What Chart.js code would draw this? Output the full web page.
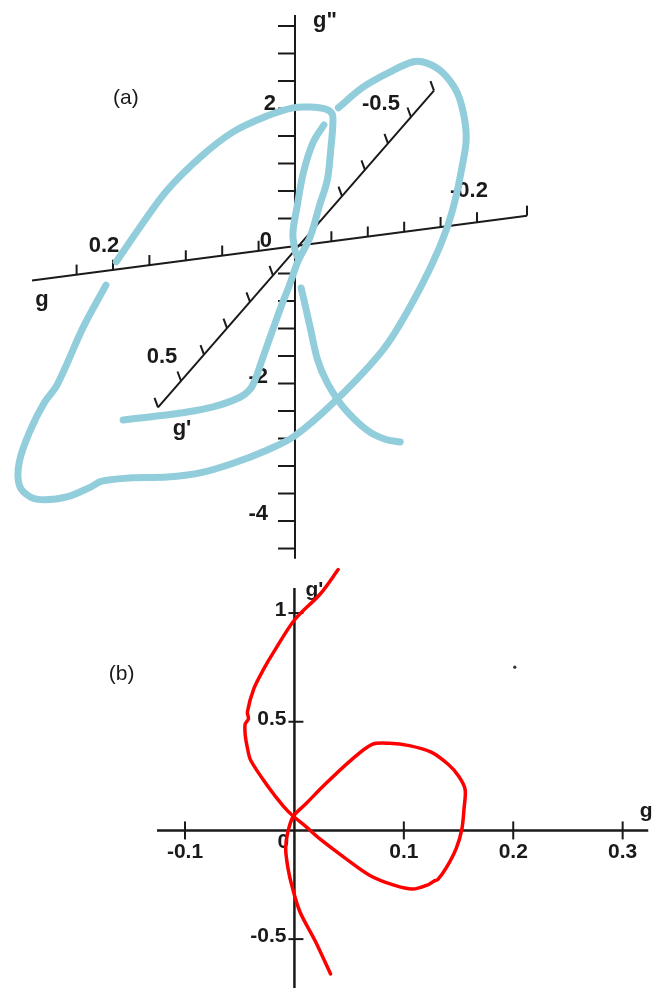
<!DOCTYPE html>
<html>
<head>
<meta charset="utf-8">
<script src="https://cdn.jsdelivr.net/npm/chart.js@4/dist/chart.umd.min.js"></script>
<style>
  html, body { margin: 0; padding: 0; background: #ffffff; }
  canvas { display: block; }
</style>
</head>
<body>
<canvas id="phase3d" width="659" height="560"></canvas>
<canvas id="phase2d" width="659" height="428"></canvas>
<script>
// ---------------- (a) trajectory in (g, g', g'') space ----------------
// Points on the drawing plane (h, v), both in g''-units; null = hidden stretch.
const trajH = [
  -2.50, -2.15, -1.67, -1.19, -0.80, -0.65, -0.57, -0.48, -0.36, -0.22, -0.07, 0.04, 0.22, 0.36, 0.47, 0.52, 0.55, 0.54, 0.45, 0.22, -0.03, -0.41, -0.90, -1.38, -1.86, -2.25, -2.60,
  null,
  -2.75, -3.08, -3.46, -3.64, -3.85, -4.01, -4.01, -3.85, -3.64, -3.32, -2.98, -2.81, -2.36, -1.86, -1.38, -0.90, -0.41, 0.00, 0.61, 1.28, 1.67, 2.01, 2.21, 2.33, 2.43, 2.49, 2.46, 2.36, 2.15, 1.92, 1.72, 1.38, 0.99, 0.63,
  null,
  0.42, 0.26, 0.12, 0.03, -0.03, 0.00, 0.03,
  null,
  0.09, 0.22, 0.33, 0.47, 0.70, 1.05, 1.31, 1.53
];
const trajV = [
  -2.53, -2.49, -2.43, -2.34, -2.20, -2.08, -1.92, -1.66, -1.32, -0.93, -0.54, -0.23, 0.13, 0.60, 0.96, 1.40, 1.76, 1.92, 1.99, 2.02, 2.01, 1.89, 1.66, 1.29, 0.81, 0.28, -0.23,
  null,
  -0.57, -1.18, -2.02, -2.27, -2.68, -3.14, -3.48, -3.65, -3.69, -3.65, -3.51, -3.42, -3.37, -3.36, -3.30, -3.16, -2.97, -2.76, -2.23, -1.51, -0.89, -0.23, 0.26, 0.67, 1.15, 1.54, 1.88, 2.23, 2.52, 2.66, 2.68, 2.53, 2.31, 2.01,
  null,
  1.76, 1.50, 1.06, 0.57, 0.19, -0.06, -0.15,
  null,
  -0.61, -1.18, -1.66, -1.99, -2.34, -2.68, -2.81, -2.85
];

// axis extents and ticks of (a)
const gRange = [-0.255, 0.289];
const gTicks = [-0.2, -0.16, -0.12, -0.08, -0.04, 0.04, 0.08, 0.12, 0.16, 0.2, 0.24, -0.255];
const gLabelValues = [0.2, -0.2];
const gpRange = [-0.6, 0.6];
const gpTicks = [-0.6, -0.5, -0.4, -0.3, -0.2, -0.1, 0.1, 0.2, 0.3, 0.4, 0.5, 0.6];
const gpLabelValues = [0.5, -0.5];
const gppRange = [-4.55, 3.36];
const gppTicks = [-4.4, -4.0, -3.6, -3.2, -2.8, -2.4, -2.0, -1.6, -1.2, -0.8, -0.4, 0.4, 0.8, 1.2, 1.6, 2.0, 2.4, 2.8, 3.2];
const gppLabelValues = [2, -2, -4];

// ---------------- (b) phase portrait g' versus g ----------------
const gValues = [
  0.040, 0.024, 0.000, -0.019, -0.028, -0.037, -0.043, -0.042, -0.045, -0.045, -0.043, -0.040, -0.024, -0.010, -0.001,
  0.010, 0.023, 0.046, 0.069, 0.091, 0.108, 0.122, 0.128, 0.131, 0.139, 0.148, 0.153, 0.155, 0.156, 0.150, 0.141, 0.125, 0.105, 0.087, 0.071,
  0.051, 0.028, 0.010, -0.001, -0.006, -0.008, -0.006, -0.002, 0.005, 0.019, 0.033
];
const gPrimeValues = [
  1.200, 1.090, 0.968, 0.820, 0.743, 0.653, 0.545, 0.514, 0.490, 0.440, 0.380, 0.323, 0.201, 0.111, 0.065,
  0.020, -0.038, -0.126, -0.207, -0.252, -0.270, -0.250, -0.232, -0.226, -0.170, -0.081, 0.005, 0.099, 0.189, 0.250, 0.302, 0.360, 0.390, 0.401, 0.396,
  0.320, 0.212, 0.120, 0.065, -0.007, -0.081, -0.171, -0.261, -0.374, -0.509, -0.660
];
const dotG = [0.2014];
const dotGPrime = [0.751];
const xTickValues = [-0.1, 0.1, 0.2, 0.3];
const yTickValues = [1, 0.5, -0.5];
const bAxisX = [-0.1256, 0.3234];
const bAxisY = [-0.75, 1.115];

// ---------------- shared styles ----------------
const BLUE = '#92cddc';
const RED = '#ff0000';
const INK = '#1a1a1a';
const BOLD = 'bold 22px "Liberation Sans", Arial, sans-serif';
const BOLD_B = 'bold 21px "Liberation Sans", Arial, sans-serif';
const PLAIN = '21px "Liberation Sans", Arial, sans-serif';

// oblique projection of the three axes onto the plane
const G_DIR = { h: -13.236, v: -1.731 };
const GP_DIR = { h: -3.345, v: -3.840 };
const GP_ORIGIN = { h: 0.0145, v: -0.0436 };
const onG = t => ({ h: t * G_DIR.h, v: t * G_DIR.v });
const onGp = t => ({ h: GP_ORIGIN.h + t * GP_DIR.h, v: GP_ORIGIN.v + t * GP_DIR.v });
const onGpp = t => ({ h: 0, v: t });

function splitSegments(xs, ys) {
  const out = [];
  let cur = [];
  xs.forEach((x, i) => {
    if (x === null || ys[i] === null) {
      if (cur.length) out.push(cur);
      cur = [];
    } else {
      cur.push({ x: x, y: ys[i] });
    }
  });
  if (cur.length) out.push(cur);
  return out;
}

function segLine(ctx, a, b) {
  ctx.beginPath();
  ctx.moveTo(a[0], a[1]);
  ctx.lineTo(b[0], b[1]);
  ctx.stroke();
}

function fmt(v) {
  return (v < 0 ? '-' : '') + String(Math.abs(v));
}

const axesA = {
  id: 'axesA',
  beforeDatasetsDraw(chart) {
    const { ctx, scales: { x, y } } = chart;
    const P = p => [x.getPixelForValue(p.h), y.getPixelForValue(p.v)];
    ctx.save();
    ctx.strokeStyle = INK;
    ctx.lineWidth = 2;
    ctx.lineCap = 'butt';

    // g'' axis (vertical) with ticks to the left
    segLine(ctx, P(onGpp(gppRange[0])), P(onGpp(gppRange[1])));
    gppTicks.forEach(t => {
      const p = P(onGpp(t));
      segLine(ctx, [p[0] - 17, p[1]], [p[0], p[1]]);
    });

    // g axis (shallow slant) with upward ticks
    segLine(ctx, P(onG(gRange[0])), P(onG(gRange[1])));
    gTicks.forEach(t => {
      const p = P(onG(t));
      segLine(ctx, [p[0], p[1] - 10], [p[0], p[1]]);
    });

    // g' axis (diagonal) with short ticks
    segLine(ctx, P(onGp(gpRange[0])), P(onGp(gpRange[1])));
    gpTicks.forEach(t => {
      const p = P(onGp(t));
      segLine(ctx, [p[0] - 3.5, p[1] - 9.5], [p[0], p[1]]);
    });

    // labels
    ctx.fillStyle = INK;
    ctx.font = BOLD;
    ctx.textBaseline = 'middle';
    ctx.textAlign = 'right';
    gppLabelValues.forEach(t => {
      const p = P(onGpp(t));
      ctx.fillText(fmt(t), p[0] + (t < 0 ? -27 : -19), p[1] + (t < 0 ? -7 : -5));
    });
    ctx.textAlign = 'center';
    gLabelValues.forEach(t => {
      const p = P(onG(t));
      ctx.fillText(fmt(t), p[0] + (t < 0 ? -8 : -9), p[1] + (t < 0 ? -31 : -24));
    });
    gpLabelValues.forEach(t => {
      const p = P(onGp(t));
      ctx.fillText(fmt(t), p[0] + (t < 0 ? -30 : -19), p[1] + (t < 0 ? -13 : -24));
    });
    const o = P(onG(0));
    ctx.fillText('0', o[0] - 29, o[1] - 5);

    // axis names
    const gEnd = P(onG(gRange[1]));
    ctx.fillText('g', gEnd[0] + 10, gEnd[1] + 20);
    const gpEnd = P(onGp(gpRange[1]));
    ctx.fillText("g'", gpEnd[0] + 24, gpEnd[1] + 22);
    const gppEnd = P(onGpp(gppRange[1]));
    ctx.fillText('g"', gppEnd[0] + 30, gppEnd[1] + 6);

    ctx.font = PLAIN;
    ctx.fillText('(a)', x.getPixelForValue(-2.46), y.getPixelForValue(2.15));
    ctx.restore();
  }
};

const axesB = {
  id: 'axesB',
  beforeDatasetsDraw(chart) {
    const { ctx, scales: { x, y } } = chart;
    const x0 = x.getPixelForValue(0);
    const y0 = y.getPixelForValue(0);
    ctx.save();
    ctx.strokeStyle = INK;
    ctx.lineWidth = 2.5;
    segLine(ctx, [x.getPixelForValue(bAxisX[0]), y0], [x.getPixelForValue(bAxisX[1]), y0]);
    segLine(ctx, [x0, y.getPixelForValue(bAxisY[1])], [x0, y.getPixelForValue(bAxisY[0])]);
    ctx.lineWidth = 2;
    xTickValues.forEach(t => {
      const px = x.getPixelForValue(t);
      segLine(ctx, [px, y0 - 9], [px, y0 + 9]);
    });
    yTickValues.forEach(t => {
      const py = y.getPixelForValue(t);
      segLine(ctx, [x0 - 6, py], [x0 + 9, py]);
    });

    ctx.fillStyle = INK;
    ctx.font = BOLD_B;
    ctx.textBaseline = 'middle';
    ctx.textAlign = 'center';
    xTickValues.forEach(t => {
      ctx.fillText(fmt(t), x.getPixelForValue(t), y0 + 22);
    });
    ctx.fillText('0', x0 - 11, y0 + 12);
    ctx.textAlign = 'right';
    yTickValues.forEach(t => {
      ctx.fillText(fmt(t), x0 - 8, y.getPixelForValue(t) - 3);
    });
    ctx.textAlign = 'center';
    ctx.fillText('g', x.getPixelForValue(bAxisX[1]) - 2, y0 - 19);
    ctx.fillText("g'", x0 + 20, y.getPixelForValue(bAxisY[1]) + 2);

    ctx.font = PLAIN;
    ctx.fillText('(b)', x.getPixelForValue(-0.158), y.getPixelForValue(0.72));
    ctx.restore();
  }
};

const baseOptions = (xr, yr) => ({
  responsive: false,
  animation: false,
  devicePixelRatio: 1,
  events: [],
  layout: { padding: 0 },
  scales: {
    x: { type: 'linear', display: false, min: xr[0], max: xr[1] },
    y: { type: 'linear', display: false, min: yr[0], max: yr[1] }
  },
  plugins: { legend: { display: false }, tooltip: { enabled: false } }
});

new Chart(document.getElementById('phase3d'), {
  type: 'scatter',
  data: {
    datasets: splitSegments(trajH, trajV).map(seg => ({
      data: seg,
      showLine: true,
      borderColor: BLUE,
      borderWidth: 7,
      pointRadius: 0,
      tension: 0.35,
      borderCapStyle: 'round',
      borderJoinStyle: 'round',
      fill: false
    }))
  },
  options: baseOptions([-4.291, 5.295], [-4.567, 3.578]),
  plugins: [axesA]
});

new Chart(document.getElementById('phase2d'), {
  type: 'scatter',
  data: {
    datasets: [
      {
        data: gValues.map((g, i) => ({ x: g, y: gPrimeValues[i] })),
        showLine: true,
        borderColor: RED,
        borderWidth: 3.5,
        pointRadius: 0,
        tension: 0.3,
        borderCapStyle: 'round',
        borderJoinStyle: 'round',
        fill: false
      },
      {
        data: dotG.map((g, i) => ({ x: g, y: dotGPrime[i] })),
        showLine: false,
        pointRadius: 1.6,
        pointBackgroundColor: '#333333',
        pointBorderWidth: 0
      }
    ]
  },
  options: baseOptions([-0.26546, 0.32957], [-0.7065, 1.2257]),
  plugins: [axesB]
});
</script>
</body>
</html>
